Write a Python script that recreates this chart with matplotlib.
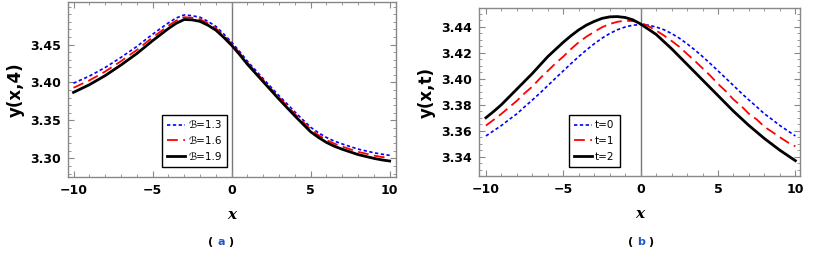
import numpy as np
import matplotlib.pyplot as plt
from matplotlib.ticker import MultipleLocator, FixedLocator

# x grid shared by every curve
x = np.arange(-10, 10.5, 0.5)

# panel (a): y(x,4) for three values of B
y_b13 = [3.399, 3.4037, 3.4084, 3.414, 3.4197, 3.4263, 3.433, 3.4402, 3.4473, 3.4555,
         3.4635, 3.471, 3.4785, 3.485, 3.489, 3.488, 3.486, 3.4805, 3.474, 3.464,
         3.453, 3.441, 3.428, 3.4165, 3.405, 3.3937, 3.3825, 3.372, 3.3612, 3.351,
         3.341, 3.3337, 3.3275, 3.3227, 3.319, 3.3155, 3.3122, 3.3098, 3.3074, 3.3055, 3.304]
y_b16 = [3.393, 3.3979, 3.4027, 3.4085, 3.4144, 3.4212, 3.428, 3.4354, 3.4427, 3.451,
         3.4593, 3.467, 3.4748, 3.4815, 3.486, 3.4853, 3.4833, 3.478, 3.4715, 3.4618,
         3.451, 3.439, 3.426, 3.4145, 3.403, 3.3916, 3.3803, 3.3695, 3.3586, 3.3483,
         3.338, 3.3306, 3.3243, 3.3194, 3.3155, 3.312, 3.3086, 3.3062, 3.3037, 3.3018, 3.301]
y_b19 = [3.387, 3.392, 3.397, 3.403, 3.409, 3.416, 3.423, 3.4305, 3.438, 3.4465,
         3.455, 3.463, 3.471, 3.478, 3.483, 3.4825, 3.4805, 3.4755, 3.469, 3.4595,
         3.449, 3.437, 3.424, 3.4125, 3.401, 3.3895, 3.378, 3.367, 3.356, 3.3455,
         3.335, 3.3275, 3.321, 3.316, 3.312, 3.3085, 3.305, 3.3025, 3.300, 3.298, 3.2965]
labels_a = ["\u212C=1.3", "\u212C=1.6", "\u212C=1.9"]
yticks_a = [3.30, 3.35, 3.40, 3.45]

# panel (b): y(x,t) for t = 0, 1, 2
y_t0 = [3.356, 3.360, 3.364, 3.3686, 3.373, 3.3784, 3.3836, 3.389, 3.3947, 3.4004,
        3.406, 3.4116, 3.417, 3.4221, 3.4268, 3.4311, 3.4347, 3.4376, 3.4397, 3.4411,
        3.4415, 3.4411, 3.4397, 3.4376, 3.4347, 3.4311, 3.4268, 3.4221, 3.417, 3.4116,
        3.406, 3.4004, 3.3947, 3.389, 3.3836, 3.3784, 3.373, 3.3686, 3.364, 3.360, 3.356]
y_t1 = [3.364, 3.3684, 3.373, 3.378, 3.383, 3.3888, 3.394, 3.4003, 3.406, 3.4118,
        3.417, 3.4228, 3.428, 3.4323, 3.436, 3.4395, 3.442, 3.4437, 3.4445, 3.4443,
        3.443, 3.4404, 3.437, 3.4332, 3.429, 3.4245, 3.419, 3.4137, 3.408, 3.4023,
        3.396, 3.3904, 3.384, 3.379, 3.373, 3.3687, 3.363, 3.3591, 3.355, 3.3511, 3.348]
y_t2 = [3.370, 3.3748, 3.380, 3.386, 3.392, 3.398, 3.404, 3.4105, 3.417, 3.4225,
        3.428, 3.433, 3.4375, 3.4412, 3.444, 3.4463, 3.4475, 3.4477, 3.447, 3.4452,
        3.442, 3.438, 3.434, 3.4285, 3.423, 3.417, 3.411, 3.405, 3.399, 3.393,
        3.387, 3.381, 3.375, 3.3695, 3.364, 3.359, 3.354, 3.3495, 3.345, 3.341, 3.337]
labels_b = ["t=0", "t=1", "t=2"]
yticks_b = [3.34, 3.36, 3.38, 3.40, 3.42, 3.44]

styles = [dict(color="blue", ls=(0, (2, 1.5)), lw=1.2),
          dict(color="red", ls=(0, (6, 3)), lw=1.3),
          dict(color="black", ls="-", lw=2.0)]

fig = plt.figure(figsize=(8.33, 2.54), dpi=100)
ax1 = fig.add_axes([0.0816, 0.303, 0.3938, 0.689])
ax2 = fig.add_axes([0.575, 0.307, 0.3854, 0.661])

frame = "#888888"


def setup(ax, ylab, xlim, ylim, yticks, ymin):
    ax.set_xlim(*xlim)
    ax.set_ylim(*ylim)
    ax.axvline(0, color="#777777", lw=1.0, zorder=1)
    ax.xaxis.set_major_locator(MultipleLocator(5))
    ax.xaxis.set_minor_locator(MultipleLocator(1))
    ax.yaxis.set_major_locator(FixedLocator(yticks))
    ax.yaxis.set_minor_locator(MultipleLocator(ymin))
    ax.yaxis.set_major_formatter(plt.FormatStrFormatter("%.2f"))
    ax.tick_params(which="both", direction="in", top=True, right=True,
                   color=frame, labelsize=9, pad=5)
    ax.tick_params(which="major", length=4, width=0.8)
    ax.tick_params(which="minor", length=2, width=0.6)
    for lab in ax.get_xticklabels() + ax.get_yticklabels():
        lab.set_fontweight("bold")
    for s in ax.spines.values():
        s.set_color(frame)
        s.set_linewidth(1.0)
    ax.set_xlabel("x", fontsize=11, fontweight="bold", family="DejaVu Serif",
                  style="italic", labelpad=8)
    ax.set_ylabel(ylab, fontsize=12, fontweight="bold")


def legend(ax, anchor):
    ax.legend(loc="lower left", bbox_to_anchor=anchor, fontsize=7.5,
              frameon=True, fancybox=False, edgecolor="black", framealpha=1,
              handlelength=1.7, borderpad=0.5, labelspacing=0.55,
              handletextpad=0.3, borderaxespad=0)


for ys, st, lab in zip([y_b13, y_b16, y_b19], styles, labels_a):
    ax1.plot(x, ys, label=lab, **st)
setup(ax1, "y(x,4)", (-10.35, 10.4), (3.2754, 3.506), yticks_a, 0.01)
legend(ax1, (0.287, 0.057))

for ys, st, lab in zip([y_t0, y_t1, y_t2], styles, labels_b):
    ax2.plot(x, ys, label=lab, **st)
setup(ax2, "y(x,t)", (-10.45, 10.3), (3.3252, 3.4542), yticks_b, 0.005)
legend(ax2, (0.28, 0.054))

for cx, letter in [(0.2653, "a"), (0.7695, "b")]:
    fig.text(cx - 0.012, 0.035, "(", fontsize=8, fontweight="bold", ha="center")
    fig.text(cx, 0.035, letter, fontsize=8, fontweight="bold", color="#2255cc", ha="center")
    fig.text(cx + 0.012, 0.035, ")", fontsize=8, fontweight="bold", ha="center")

fig.savefig("out.png", dpi=100)
